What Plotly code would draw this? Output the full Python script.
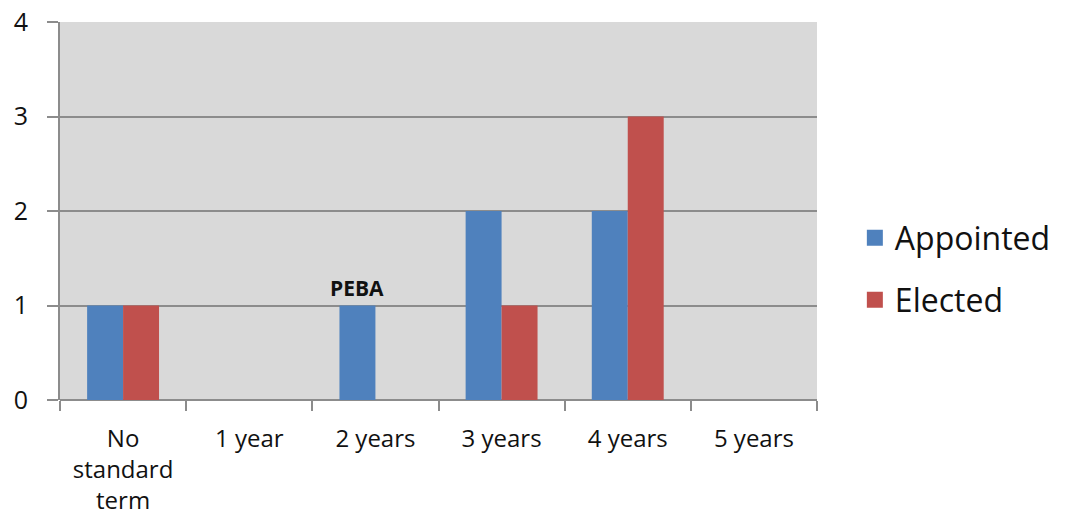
import plotly.graph_objects as go

categories = ["No<br>standard<br>term", "1 year", "2 years", "3 years", "4 years", "5 years"]
appointed = [1, 0, 1, 2, 2, 0]
elected = [1, 0, 0, 1, 3, 0]
series_names = ["Appointed", "Elected"]
colors = ["#4f81bd", "#c0504d"]
y_ticks = [0, 1, 2, 3, 4]
note_text = "PEBA"
note_cat = "2 years"
note_val = 1

FONT = "Open Sans, Liberation Sans, sans-serif"

fig = go.Figure()
legend_ids = ["legend", "legend2"]
for name, vals, col, lg in zip(series_names, [appointed, elected], colors, legend_ids):
    fig.add_trace(go.Bar(x=categories, y=vals, name=name, marker=dict(color=col, line=dict(width=0)),
                         showlegend=False))
    fig.add_trace(go.Scatter(x=[None], y=[None], mode="markers", name=name, legend=lg,
                             marker=dict(symbol="square", size=22, color=col)))

fig.add_annotation(x=note_cat, y=note_val, text="<b>" + note_text + "</b>", showarrow=False,
                   yanchor="bottom", xshift=-18, yshift=2, font=dict(size=21, color="#111111", family=FONT))

leg_common = dict(xanchor="left", yanchor="middle", font=dict(size=32, color="#111111"),
                  itemwidth=30, bgcolor="rgba(0,0,0,0)", borderwidth=0)
fig.update_layout(
    width=1069, height=532,
    margin=dict(l=60, r=252, t=22, b=132),
    paper_bgcolor="white", plot_bgcolor="#d9d9d9",
    barmode="group", bargap=0.43, bargroupgap=0,
    font=dict(family=FONT, color="#111111"),
    legend=dict(x=1.05, y=(400 - 238) / 378, **leg_common),
    legend2=dict(x=1.05, y=(400 - 300) / 378, **leg_common),
)
fig.update_xaxes(showgrid=False, ticks="outside", tickson="boundaries", ticklen=10,
                 tickcolor="#8c8c8c", tickwidth=1.5, showline=False, automargin=False,
                 tickfont=dict(size=24), ticklabelstandoff=22, ticklabeloverflow="allow",
                 fixedrange=True)
fig.update_yaxes(range=[0, 4], tickvals=y_ticks, showgrid=True, gridcolor="#8c8c8c", gridwidth=2,
                 zeroline=True, zerolinecolor="#8c8c8c", zerolinewidth=2,
                 showline=True, linecolor="#8c8c8c", linewidth=2, automargin=False,
                 ticks="outside", ticklen=11, tickcolor="#8c8c8c", tickwidth=1.5,
                 tickfont=dict(size=25), ticklabelstandoff=14, ticklabeloverflow="allow")

fig.write_html("out.html", config={"displayModeBar": False},
               post_script="document.body.style.margin='0';")
